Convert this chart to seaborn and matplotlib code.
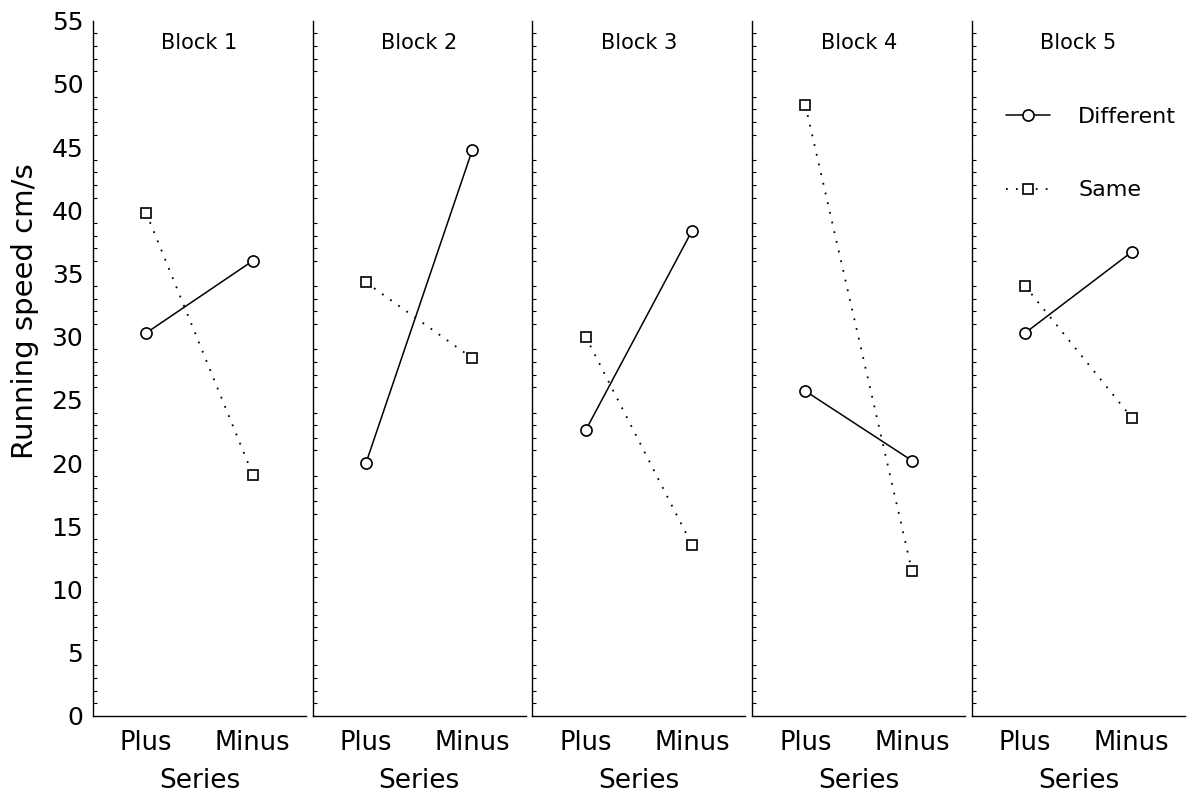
import matplotlib
matplotlib.use("Agg")
import matplotlib.pyplot as plt
from matplotlib.ticker import MultipleLocator
import pandas as pd
import seaborn as sns

# Running speed (cm/s) per block, series and condition
blocks = ["Block 1", "Block 2", "Block 3", "Block 4", "Block 5"]
series_labels = ["Plus", "Minus"]
different = [[30.3, 36.0], [20.0, 44.8], [22.6, 38.4], [25.7, 20.2], [30.3, 36.7]]
same = [[39.8, 19.1], [34.3, 28.3], [30.0, 13.5], [48.3, 11.5], [34.0, 23.6]]

rows = []
for b, blk in enumerate(blocks):
    for s, ser in enumerate(series_labels):
        rows.append({"Block": blk, "pos": s, "Series": ser, "Condition": "Different", "Speed": different[b][s]})
        rows.append({"Block": blk, "pos": s, "Series": ser, "Condition": "Same", "Speed": same[b][s]})
df = pd.DataFrame(rows)

sns.set_theme(style="white")
plt.rcParams["font.family"] = ["DejaVu Sans"]
plt.rcParams.update({
    "text.color": "black",
    "axes.labelcolor": "black",
    "xtick.color": "black",
    "ytick.color": "black",
})

styles = {
    "Different": dict(marker="o", markersize=8, linestyle="-", linewidth=1.1),
    "Same": dict(marker="s", markersize=7.5, linestyle=(0, (1, 4.5)), linewidth=1.3),
}

fig, axes = plt.subplots(1, 5, figsize=(11.92, 7.99), dpi=100, sharey=True)
fig.subplots_adjust(left=0.078, right=0.994, bottom=0.104, top=0.974, wspace=0.032)

for ax, blk in zip(axes, blocks):
    sub = df[df["Block"] == blk]
    for cond in ["Different", "Same"]:
        d = sub[sub["Condition"] == cond]
        sns.lineplot(data=d, x="pos", y="Speed", ax=ax, color="black",
                     markerfacecolor="white", markeredgecolor="black",
                     markeredgewidth=1.2, label=cond, legend=False,
                     **styles[cond])
    ax.set_xlim(-0.5, 1.5)
    ax.set_ylim(0, 55)
    ax.set_xticks(range(len(series_labels)))
    ax.set_xticklabels(series_labels, fontsize=18.5)
    ax.set_xlabel("Series", fontsize=19, labelpad=9)
    ax.yaxis.set_major_locator(MultipleLocator(5))
    ax.yaxis.set_minor_locator(MultipleLocator(1))
    ax.tick_params(axis="x", direction="in", length=3, width=0.8, pad=10)
    ax.tick_params(axis="y", which="major", direction="in", length=5, width=0.8,
                   pad=7, labelsize=18)
    ax.tick_params(axis="y", which="minor", direction="in", length=3, width=0.8,
                   left=True)
    for side in ("top", "right"):
        ax.spines[side].set_visible(False)
    for side in ("left", "bottom"):
        ax.spines[side].set_color("black")
        ax.spines[side].set_linewidth(1.0)
    ax.text(0.5, 0.968, blk, transform=ax.transAxes, ha="center", va="center", fontsize=15)
    if ax is not axes[0]:
        ax.set_ylabel("")
        ax.tick_params(axis="y", which="both", labelleft=False)

axes[0].set_ylabel("Running speed cm/s", fontsize=21, labelpad=9)
axes[0].yaxis.label.set_y(0.583)

leg = axes[-1].legend(loc="upper left", bbox_to_anchor=(0.16, 0.876), frameon=False,
                      fontsize=16, handlelength=2.0, handletextpad=1.25,
                      labelspacing=2.4, borderpad=0, borderaxespad=0)

fig.savefig("out.png", dpi=100, facecolor="white")
